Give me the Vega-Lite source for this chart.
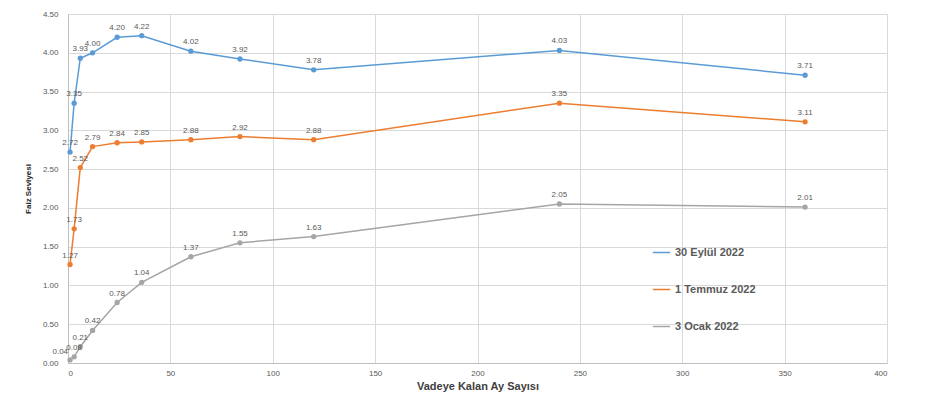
{
  "$schema": "https://vega.github.io/schema/vega-lite/v6.json",
  "width": 819,
  "height": 349,
  "autosize": {"type": "none"},
  "padding": {"left": 68, "top": 14, "right": 46, "bottom": 42},
  "background": "white",
  "config": {
    "font": "Liberation Sans",
    "view": {"stroke": null},
    "axis": {"gridColor": "#D9D9D9", "gridWidth": 1, "domainColor": "#BFBFBF", "ticks": false, "labelColor": "#595959", "labelFontSize": 8, "titleColor": "#404040"}
  },
  "data": {
    "values": [
      {"seri": "30 Eylül 2022", "ay": 1, "faiz": 2.72},
      {"seri": "30 Eylül 2022", "ay": 3, "faiz": 3.35},
      {"seri": "30 Eylül 2022", "ay": 6, "faiz": 3.93},
      {"seri": "30 Eylül 2022", "ay": 12, "faiz": 4.00},
      {"seri": "30 Eylül 2022", "ay": 24, "faiz": 4.20},
      {"seri": "30 Eylül 2022", "ay": 36, "faiz": 4.22},
      {"seri": "30 Eylül 2022", "ay": 60, "faiz": 4.02},
      {"seri": "30 Eylül 2022", "ay": 84, "faiz": 3.92},
      {"seri": "30 Eylül 2022", "ay": 120, "faiz": 3.78},
      {"seri": "30 Eylül 2022", "ay": 240, "faiz": 4.03},
      {"seri": "30 Eylül 2022", "ay": 360, "faiz": 3.71},
      {"seri": "1 Temmuz 2022", "ay": 1, "faiz": 1.27},
      {"seri": "1 Temmuz 2022", "ay": 3, "faiz": 1.73},
      {"seri": "1 Temmuz 2022", "ay": 6, "faiz": 2.52},
      {"seri": "1 Temmuz 2022", "ay": 12, "faiz": 2.79},
      {"seri": "1 Temmuz 2022", "ay": 24, "faiz": 2.84},
      {"seri": "1 Temmuz 2022", "ay": 36, "faiz": 2.85},
      {"seri": "1 Temmuz 2022", "ay": 60, "faiz": 2.88},
      {"seri": "1 Temmuz 2022", "ay": 84, "faiz": 2.92},
      {"seri": "1 Temmuz 2022", "ay": 120, "faiz": 2.88},
      {"seri": "1 Temmuz 2022", "ay": 240, "faiz": 3.35},
      {"seri": "1 Temmuz 2022", "ay": 360, "faiz": 3.11},
      {"seri": "3 Ocak 2022", "ay": 1, "faiz": 0.04},
      {"seri": "3 Ocak 2022", "ay": 3, "faiz": 0.08},
      {"seri": "3 Ocak 2022", "ay": 6, "faiz": 0.21},
      {"seri": "3 Ocak 2022", "ay": 12, "faiz": 0.42},
      {"seri": "3 Ocak 2022", "ay": 24, "faiz": 0.78},
      {"seri": "3 Ocak 2022", "ay": 36, "faiz": 1.04},
      {"seri": "3 Ocak 2022", "ay": 60, "faiz": 1.37},
      {"seri": "3 Ocak 2022", "ay": 84, "faiz": 1.55},
      {"seri": "3 Ocak 2022", "ay": 120, "faiz": 1.63},
      {"seri": "3 Ocak 2022", "ay": 240, "faiz": 2.05},
      {"seri": "3 Ocak 2022", "ay": 360, "faiz": 2.01}
    ]
  },
  "encoding": {
    "x": {"field": "ay", "type": "quantitative", "scale": {"domain": [0, 400], "nice": false}, "axis": {"values": [0, 50, 100, 150, 200, 250, 300, 350, 400], "title": "Vadeye Kalan Ay Sayısı", "titleFontSize": 11, "titleFontWeight": "bold", "titlePadding": 3, "labelPadding": 6}},
    "y": {"field": "faiz", "type": "quantitative", "scale": {"domain": [0, 4.5], "nice": false}, "axis": {"values": [0, 0.5, 1, 1.5, 2, 2.5, 3, 3.5, 4, 4.5], "format": ".2f", "title": "Faiz Seviyesi", "titleFontSize": 8, "titleFontWeight": "bold", "titleColor": "#262626", "labelPadding": 10, "titlePadding": 10}},
    "color": {"field": "seri", "type": "nominal", "sort": ["30 Eylül 2022", "1 Temmuz 2022", "3 Ocak 2022"], "scale": {"domain": ["30 Eylül 2022", "1 Temmuz 2022", "3 Ocak 2022"], "range": ["#5B9BD5", "#ED7D31", "#A5A5A5"]},
      "legend": {"orient": "none", "legendX": 584, "legendY": 229, "title": null, "labelFontSize": 11, "labelFontWeight": "bold", "labelColor": "#595959", "rowPadding": 22, "symbolSize": 300, "symbolStrokeWidth": 1.5, "symbolType": "stroke"}}
  },
  "layer": [
    {"mark": {"type": "line", "strokeWidth": 1.5}},
    {"mark": {"type": "point", "filled": true, "size": 28, "opacity": 1}},
    {"transform": [{"filter": "!(datum.seri == '3 Ocak 2022' && datum.ay == 1)"}],
     "mark": {"type": "text", "dy": -9, "fontSize": 8, "color": "#595959"}, "encoding": {"text": {"field": "faiz", "type": "quantitative", "format": ".2f"}, "color": {"value": "#595959"}}},
    {"transform": [{"filter": "datum.seri == '3 Ocak 2022' && datum.ay == 1"}],
     "mark": {"type": "text", "align": "right", "dx": -2, "dy": -8, "fontSize": 8, "color": "#595959"}, "encoding": {"text": {"field": "faiz", "type": "quantitative", "format": ".2f"}, "color": {"value": "#595959"}}}
  ]
}
